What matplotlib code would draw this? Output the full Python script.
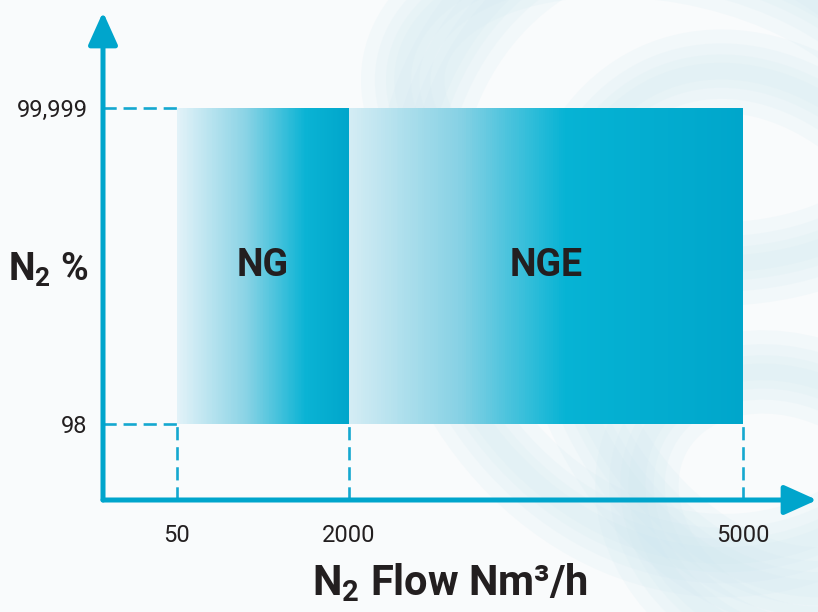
import matplotlib.pyplot as plt
import numpy as np
import matplotlib as mpl
from matplotlib.colors import LinearSegmentedColormap
from matplotlib.patches import FancyArrowPatch, Ellipse

# Product range chart: N2 purity vs N2 flow for the NG and NGE generators

flow_ticks   = [50, 2000, 5000]          # Nm3/h
flow_labels  = ['50', '2000', '5000']
purity_ticks = [98, 99.999]              # N2 %
purity_labels = ['98', '99,999']
products     = ['NG', 'NGE']
flow_min     = [50, 2000]
flow_max     = [2000, 5000]
purity_min   = [98, 98]
purity_max   = [99.999, 99.999]

# schematic (non linear) axes: value -> position along the axis
x_nodes = [0, 50, 2000, 5000, 5600]
x_pos   = [0, 74, 246, 640, 714]
y_nodes = [97.6, 98, 99.999, 100.3]
y_pos   = [0, 76, 392, 488]

blue = '#00a5cc'
dark = '#231f20'
mpl.rcParams['font.family'] = ['Roboto', 'DejaVu Sans']
mpl.rcParams['mathtext.fontset'] = 'custom'
mpl.rcParams['mathtext.rm'] = 'Roboto:bold'
mpl.rcParams['mathtext.default'] = 'rm'

fig = plt.figure(figsize=(8.18, 6.12), dpi=100)
fig.patch.set_facecolor('#f9fbfc')

# soft swirl decoration in the background
bg = fig.add_axes([0, 0, 1, 1])
bg.set_xlim(0, 818); bg.set_ylim(612, 0); bg.axis('off')
swirls = [(700, 240, 560, 640, -20), (770, 330, 400, 540, -25),
          (660, 110, 520, 300, 10), (790, 510, 320, 260, 30)]
for (cx, cy, w, h, ang) in swirls:
    for lw in [60, 40, 24, 12]:
        bg.add_patch(Ellipse((cx, cy), w, h, angle=ang, fill=False,
                             edgecolor='#cfe8f1', lw=lw, alpha=0.15))

ax = fig.add_axes([103/818, 112/612, 714/818, 488/612])
ax.patch.set_alpha(0)
ax.set_xscale('function', functions=(lambda v: np.interp(v, x_nodes, x_pos),
                                     lambda p: np.interp(p, x_pos, x_nodes)))
ax.set_yscale('function', functions=(lambda v: np.interp(v, y_nodes, y_pos),
                                     lambda p: np.interp(p, y_pos, y_nodes)))
ax.set_xlim(x_nodes[0], x_nodes[-1])
ax.set_ylim(y_nodes[0], y_nodes[-1])

cmaps = [LinearSegmentedColormap.from_list('ng', [(0, '#e2f2f8'), (0.4, '#8ad3e5'),
                                                  (0.75, '#0ab3d4'), (1, '#00a6cb')]),
         LinearSegmentedColormap.from_list('nge', [(0, '#d3ecf4'), (0.28, '#86d1e4'),
                                                   (0.55, '#06b3d4'), (1, '#00a6cb')])]

for name, x0, x1, y0, y1, cm in zip(products, flow_min, flow_max,
                                    purity_min, purity_max, cmaps):
    xe = np.linspace(x0, x1, 200)
    ye = [y0, y1]
    c = np.linspace(0, 1, 199)[None, :]
    ax.pcolormesh(xe, ye, c, cmap=cm, shading='flat', zorder=2)
    # label in the middle of the box
    p0 = ax.transData.transform((x0, y0))
    p1 = ax.transData.transform((x1, y1))
    mid = ax.transData.inverted().transform((p0 + p1) / 2)
    ax.text(mid[0], mid[1], name, ha='center', va='center', fontsize=27,
            fontweight='bold', color=dark, zorder=3)

# dashed guide lines
dash = dict(color='#14a8d0', lw=1.9, ls=(0, (5, 2.6)), zorder=1)
for yv in purity_ticks:
    ax.plot([x_nodes[0], flow_min[0]], [yv, yv], **dash)
for xv in flow_ticks:
    ax.plot([xv, xv], [y_nodes[0], purity_min[0]], **dash)

# axes drawn as arrows
for end in [(0, 1), (1, 0)]:
    ax.add_patch(FancyArrowPatch((0, 0), end, transform=ax.transAxes,
                                 arrowstyle='-|>,head_length=1.0,head_width=0.45',
                                 mutation_scale=20, lw=3.6, color=blue,
                                 shrinkA=0, shrinkB=0, clip_on=False, zorder=4))
for s in ax.spines.values():
    s.set_visible(False)

ax.set_xticks(flow_ticks, flow_labels)
ax.set_yticks(purity_ticks, purity_labels)
ax.tick_params(length=0, labelsize=17, colors=dark)
ax.tick_params(axis='x', pad=17)
ax.tick_params(axis='y', pad=11)
ax.minorticks_off()

fig.text(88/818, 1 - 270/612, r'N$_{2}$ %', ha='right', va='center',
         fontsize=27, fontweight='bold', color=dark)
fig.text(450/818, 1 - 583/612, r'N$_{2}$ Flow Nm³/h', ha='center', va='center',
         fontsize=30, fontweight='bold', color=dark)

fig.savefig('out.png', dpi=100, facecolor=fig.get_facecolor())
